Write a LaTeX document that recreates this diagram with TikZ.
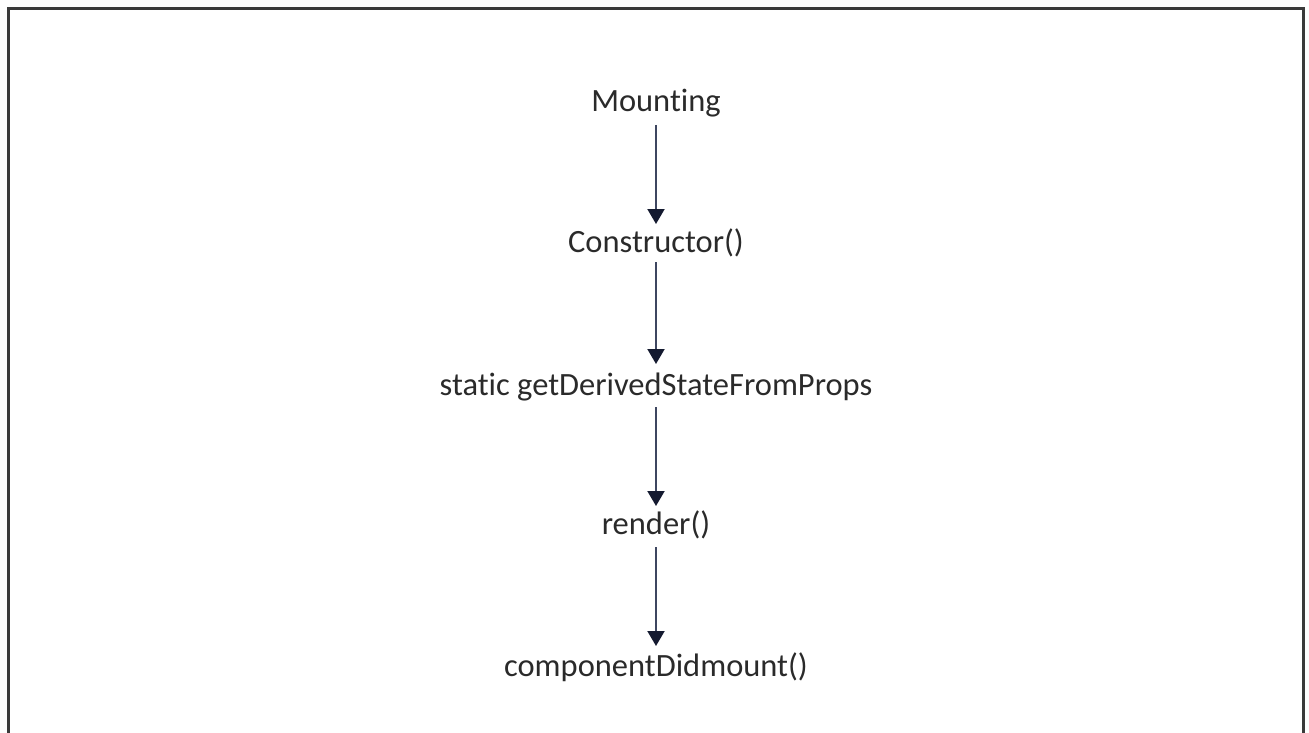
\documentclass[tikz,border=0pt]{standalone}
\usepackage{fontspec}
\setmainfont{Carlito}[Ligatures=NoCommon]
\usetikzlibrary{arrows.meta}
\definecolor{framegray}{HTML}{3A3A3A}
\definecolor{linkslate}{HTML}{3E4660}
\definecolor{headnavy}{HTML}{141A30}
\definecolor{labelgray}{HTML}{2A2A2A}
\tikzset{
  stage/.style={font=\fontsize{32.5}{36}\selectfont, text=labelgray, inner sep=0pt, anchor=center},
  flow/.style={draw=linkslate, line width=2pt,
    -{Triangle[length=15pt,width=17pt,fill=headnavy,color=headnavy]}}
}
\begin{document}
\begin{tikzpicture}[x=1pt,y=-1pt]
  \useasboundingbox (0,0) rectangle (1309,733);
  % open frame: left, top and right edges
  \draw[framegray, line width=3pt] (8,733) -- (8,9) -- (1303,9) -- (1303,733);

  \node[stage] (mount)  at (656,103) {Mounting};
  \node[stage] (ctor)   at (656,243) {Constructor()};
  \node[stage] (gdsfp)  at (656,387) {static getDerivedStateFromProps};
  \node[stage] (render) at (656,525) {render()};
  \node[stage] (cdm)    at (656,667) {componentDidmount()};

  \coordinate (a1s) at (656,125); \coordinate (a1e) at (656,224);
  \coordinate (a2s) at (656,262); \coordinate (a2e) at (656,364);
  \coordinate (a3s) at (656,407); \coordinate (a3e) at (656,506);
  \coordinate (a4s) at (656,547); \coordinate (a4e) at (656,646);

  \draw[flow] (a1s) -- (a1e);
  \draw[flow] (a2s) -- (a2e);
  \draw[flow] (a3s) -- (a3e);
  \draw[flow] (a4s) -- (a4e);
\end{tikzpicture}
\end{document}
